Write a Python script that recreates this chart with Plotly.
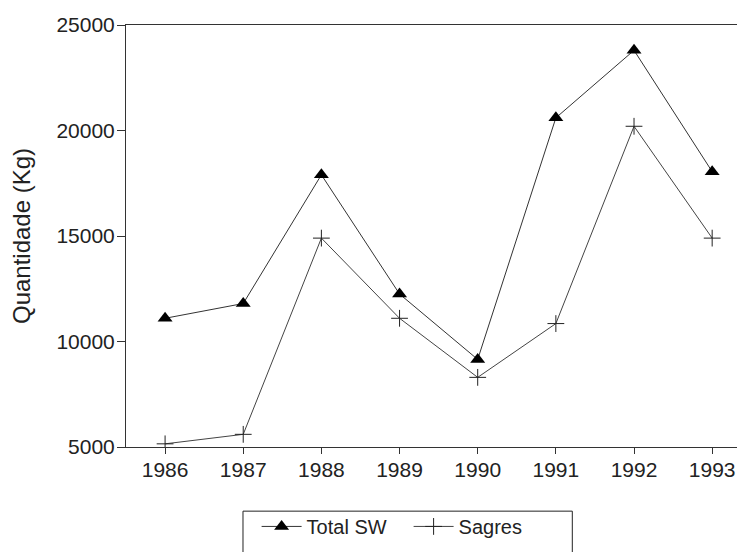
import plotly.graph_objects as go

years = ["1986", "1987", "1988", "1989", "1990", "1991", "1992", "1993"]
total_sw = [11100, 11800, 17900, 12250, 9150, 20600, 23800, 18050]
sagres = [5150, 5600, 14900, 11100, 8300, 10850, 20200, 14900]
y_ticks = [5000, 10000, 15000, 20000, 25000]
y_tick_text = ["5000", "10000", "15000", "20000", "25000"]

font = "Liberation Sans, Arial, Helvetica, sans-serif"
fig = go.Figure()
fig.add_trace(go.Scatter(
    x=years, y=total_sw, name="Total SW", mode="lines+markers",
    line=dict(color="#333333", width=1),
    marker=dict(symbol="triangle-up", size=13, color="black"),
))
fig.add_trace(go.Scatter(
    x=years, y=sagres, name="Sagres", mode="lines+markers",
    line=dict(color="#444444", width=1),
    marker=dict(symbol="cross-thin", size=12, color="#222222",
                line=dict(color="#222222", width=1)),
))

fig.add_shape(
    type="rect", xref="paper", yref="paper",
    x0=0.189, x1=0.721, y0=-0.152, y1=-0.3,
    line=dict(color="#222222", width=1), fillcolor="rgba(0,0,0,0)",
)

fig.update_layout(
    width=737, height=544,
    margin=dict(l=118, r=0, t=17, b=105),
    paper_bgcolor="white", plot_bgcolor="white",
    font=dict(family=font, size=20, color="#222222"),
    showlegend=True,
    legend=dict(
        orientation="h", x=0.211, xanchor="left", y=-0.142, yanchor="top",
        borderwidth=0, bgcolor="rgba(0,0,0,0)",
        font=dict(size=20), itemwidth=40, entrywidth=97,
    ),
    xaxis=dict(
        type="category", range=[-0.5, 7.42], automargin=False,
        showline=True, linecolor="#333333", linewidth=1, mirror=True,
        ticks="outside", ticklen=6, tickcolor="#333333",
        tickfont=dict(size=21), ticklabelstandoff=-2,
        showgrid=False, zeroline=False,
    ),
    yaxis=dict(
        range=[5000, 25000], tickvals=y_ticks, ticktext=y_tick_text,
        automargin=False,
        showline=True, linecolor="#333333", linewidth=1,
        ticks="outside", ticklen=8, tickcolor="#333333",
        tickfont=dict(size=21), ticklabelstandoff=-2,
        showgrid=False, zeroline=False,
        title=dict(text="Quantidade (Kg)", standoff=22),
    ),
)
fig.write_html("out.html")
